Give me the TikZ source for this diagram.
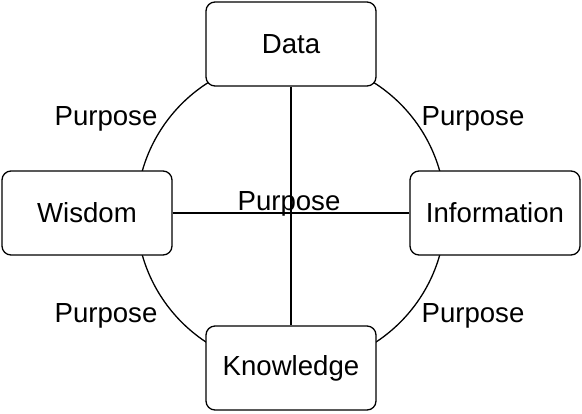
\documentclass[tikz,border=0pt]{standalone}
\usepackage{fontspec}
\setmainfont{Liberation Sans}
\usetikzlibrary{positioning}

\begin{document}
\begin{tikzpicture}[x=0.5pt,y=-0.5pt,
  every node/.style={font=\fontsize{13.8pt}{16pt}\selectfont},
  box/.style={draw,rounded corners=4.5pt,fill=white,minimum width=85pt,minimum height=42pt,line width=0.65pt},
  lbl/.style={anchor=base,inner sep=0pt},
  ln/.style={line width=0.65pt}]
\useasboundingbox (0,0) rectangle (582,413);
\coordinate (ctr) at (291,213);
\draw[ln] (ctr) circle[radius=77.25pt];
\node[box] (data)  at (291,44)  {Data};
\node[box] (wisd)  at (87,213)  {Wisdom};
\node[box] (info)  at (495,213) {Information};
\node[box] (know)  at (291,368) {Knowledge};
\draw[ln] (data) -- (know);
\draw[ln] (wisd) -- node[lbl,yshift=1.5pt,xshift=-1pt]{Purpose} (info);
\node[lbl] (p1) at (106,125) {Purpose};
\node[lbl] (p2) at (473,125) {Purpose};
\node[lbl] (p3) at (106,322) {Purpose};
\node[lbl] (p4) at (473,322) {Purpose};
\end{tikzpicture}
\end{document}
